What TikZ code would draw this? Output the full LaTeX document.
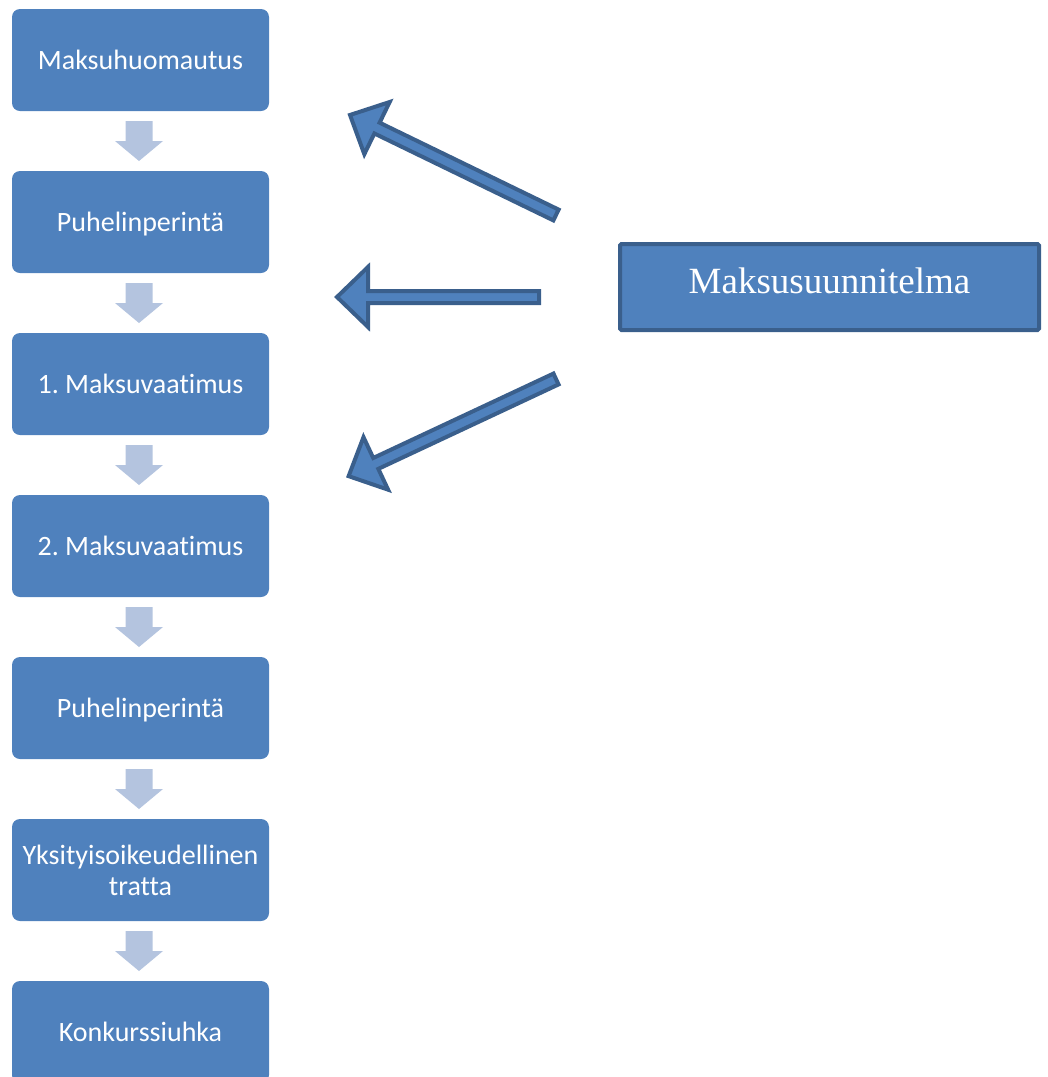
\documentclass[tikz,border=0pt]{standalone}
\usepackage{fontspec}
\newfontfamily\boxfont[Ligatures=NoCommon]{Carlito}
\newfontfamily\seriffont{Liberation Serif}
\usetikzlibrary{calc}
\frenchspacing
\definecolor{boxblue}{HTML}{4F81BD}
\definecolor{edgeblue}{HTML}{3A5F8C}
\definecolor{paleblue}{HTML}{B4C4DF}
\tikzset{
  stagebase/.style={rectangle, rounded corners=8pt, fill=boxblue, text=white,
    minimum width=257pt, minimum height=102pt, inner sep=0pt,
    font=\boxfont\frenchspacing\fontsize{28}{31}\selectfont, align=center},
  stage/.style={stagebase, text height=22pt, text depth=3pt},
  planbox/.style={rectangle, rounded corners=1.5pt, fill=boxblue, draw=edgeblue, line width=4pt,
    text=white, minimum width=419pt, minimum height=86pt, inner sep=0pt,
    text height=26pt, text depth=14pt,
    font=\seriffont\fontsize{37}{40}\selectfont},
  bigarrow/.style={fill=boxblue, draw=edgeblue, line width=4pt, line join=miter},
  smallarrow/.style={fill=paleblue, draw=none},
  pics/downarrow/.style={code={
    \path[smallarrow] (-13.5,20) -- (13.5,20) -- (13.5,0) -- (24,0) -- (0,-20) -- (-24,0) -- (-13.5,0) -- cycle;
  }}
}
\begin{document}
\begin{tikzpicture}[x=1pt,y=1pt]
\useasboundingbox (0,0) rectangle (1048,-1077);
\clip (0,0) rectangle (1048,-1077);
\node[stage] (b1) at (140.5,-60) {Maksuhuomautus};
\node[stage] (b2) at (140.5,-222) {Puhelinperintä};
\node[stage] (b3) at (140.5,-384) {1. Maksuvaatimus};
\node[stage] (b4) at (140.5,-546) {2. Maksuvaatimus};
\node[stage] (b5) at (140.5,-708) {Puhelinperintä};
\node[stagebase] (b6) at (140.5,-870) {Yksityisoikeudellinen\\tratta};
\node[stage] (b7) at (140.5,-1032) {Konkurssiuhka};
\foreach \a/\b in {b1/b2,b2/b3,b3/b4,b4/b5,b5/b6,b6/b7}
  \pic at ($(\a.south)!0.5!(\b.north)-(1.5,0)$) {downarrow};
\node[planbox] (plan) at (829.5,-287) {Maksusuunnitelma};
\coordinate (t1) at (556,-215);
\coordinate (t2) at (539,-297);
\coordinate (t3) at (556,-379);
\begin{scope}[shift={(t1)}, rotate=154.1]
  \draw[bigarrow] (0,-6) -- (199,-6) -- (199,-29) -- (229,0) -- (199,29) -- (199,6) -- (0,6) -- cycle;
\end{scope}
\begin{scope}[shift={(t2)}, rotate=180]
  \draw[bigarrow] (0,-6) -- (171,-6) -- (171,-30) -- (202,0) -- (171,30) -- (171,6) -- (0,6) -- cycle;
\end{scope}
\begin{scope}[shift={(t3)}, rotate=205.1]
  \draw[bigarrow] (0,-6) -- (199,-6) -- (199,-29) -- (229,0) -- (199,29) -- (199,6) -- (0,6) -- cycle;
\end{scope}
\end{tikzpicture}
\end{document}
